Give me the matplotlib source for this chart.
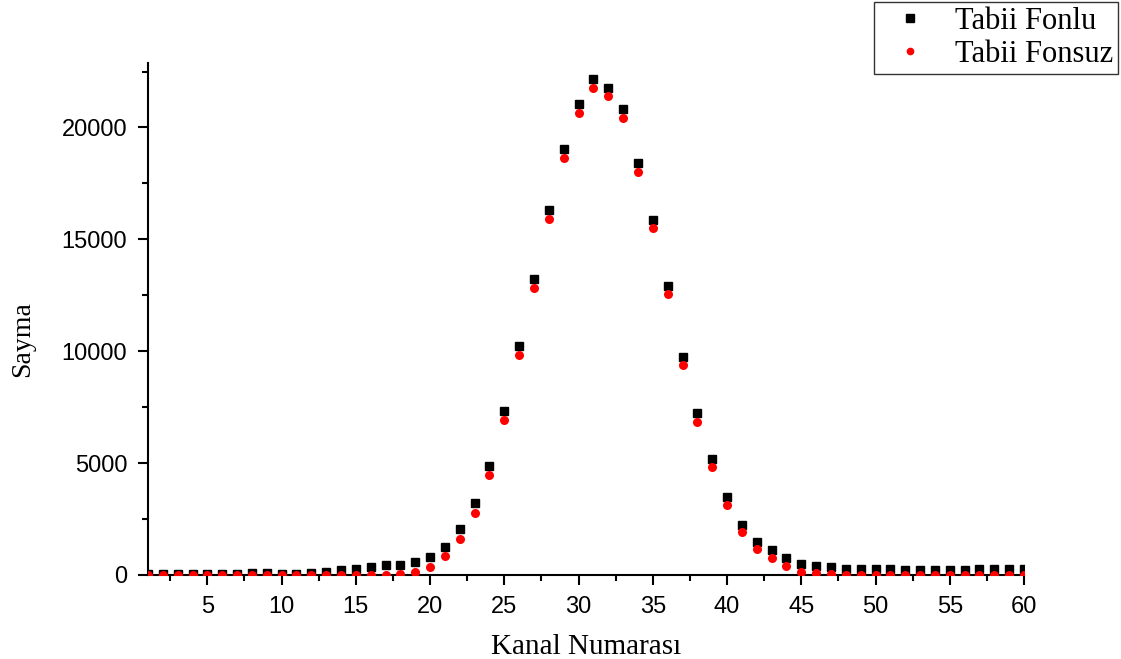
import matplotlib
matplotlib.use("Agg")
import matplotlib.pyplot as plt
from matplotlib.ticker import MultipleLocator

channels = list(range(1, 61))
fonlu = [30, 40, 40, 40, 40, 40, 40, 70, 70, 60,
         50, 70, 150, 210, 280, 370, 430, 450, 580, 790,
         1270, 2040, 3210, 4890, 7350, 10250, 13210, 16320, 19040, 21050,
         22150, 21770, 20820, 18410, 15870, 12920, 9750, 7220, 5190, 3490,
         2240, 1480, 1120, 750, 490, 400, 340, 270, 270, 260,
         250, 220, 220, 230, 240, 220, 250, 250, 250, 250]
fonsuz = [20, 20, 20, 20, 20, 20, 20, 20, 20, 20,
          20, 20, 20, 20, 10, 10, 10, 40, 140, 360,
          850, 1620, 2770, 4470, 6935, 9830, 12820, 15910, 18640, 20650,
          21750, 21400, 20430, 18030, 15490, 12540, 9380, 6850, 4830, 3120,
          1900, 1140, 780, 420, 150, 70, 40, 20, 20, 20,
          20, 20, 20, 20, 20, 20, 20, 20, 20, 20]
labels = ["Tabii Fonlu", "Tabii Fonsuz"]
xticks = [5, 10, 15, 20, 25, 30, 35, 40, 45, 50, 55, 60]
yticks = [0, 5000, 10000, 15000, 20000]

fig = plt.figure(figsize=(11.21, 6.59), dpi=100)
ax = fig.add_axes([0.132, 0.1275, 0.7815, 0.7775])

ax.plot(channels, fonlu, linestyle="none", marker="s", markersize=6,
        color="black", label=labels[0], zorder=3)
ax.plot(channels, fonsuz, linestyle="none", marker="o", markersize=6.5,
        color="red", markeredgewidth=0, label=labels[1], zorder=4)

ax.set_xlim(1, 60)
ax.set_ylim(0, 22900)
ax.set_xticks(xticks)
ax.set_yticks(yticks)
ax.xaxis.set_minor_locator(MultipleLocator(2.5))
ax.yaxis.set_minor_locator(MultipleLocator(2500))

for s in ["top", "right"]:
    ax.spines[s].set_visible(False)
for s in ["left", "bottom"]:
    ax.spines[s].set_linewidth(1.5)

ax.tick_params(which="major", direction="out", length=7, width=1.5,
               pad=8, labelsize=17)
ax.tick_params(which="minor", direction="out", length=4, width=1.5)
for lab in ax.get_xticklabels() + ax.get_yticklabels():
    lab.set_fontfamily("Liberation Sans")

ax.set_xlabel("Kanal Numarası", fontfamily="Liberation Serif", fontsize=21,
              labelpad=12)
ax.set_ylabel("Sayma", fontfamily="Liberation Serif", fontsize=20,
              labelpad=10)
ax.yaxis.set_label_coords(-0.129, 0.46)

leg = fig.legend(loc="upper right", bbox_to_anchor=(0.9975, 0.997),
                 borderaxespad=0, frameon=True, fancybox=False,
                 prop={"family": "Liberation Serif", "size": 22},
                 handletextpad=0.5, labelspacing=0.15, borderpad=0.15,
                 handlelength=2.0, markerscale=0.85)
leg.get_frame().set_edgecolor("black")
leg.get_frame().set_linewidth(1.0)

fig.savefig("out.png", dpi=100)
